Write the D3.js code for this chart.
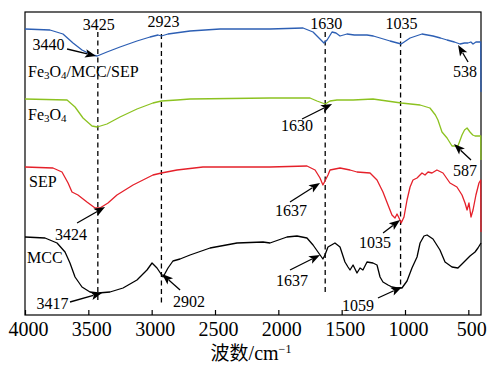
<!DOCTYPE html>
<html><head><meta charset="utf-8">
<script src="https://cdn.jsdelivr.net/npm/d3@7"></script>
<style>body{margin:0;background:#fff}</style>
</head><body><svg id="c" width="489" height="365"></svg>
<script>
// ---- data (wavenumber cm-1, transmittance in arbitrary offset units) ----
const compositeWn = [4000,3803,3700,3621,3550,3471,3430,3353,3250,3116,3013,2950,2923,2871,2697,2460,2066,1805,1726,1687,1640,1615,1576,1545,1513,1458,1400,1300,1250,1197,1118,1030,960,866,779,720,668,610,566,530,503,480,463,440,416,402,400];
const compositeT  = [286,285,281,272,265,260,259,263,268,274,278,280,279,281,284,286,286,287,283,278,272,275,283,282,279,281,280,280,279,277,274,271,277,281,279,277,275,273,271,272,272,273,271,273,273,273,223];

const fe3o4Wn = [4000,3668,3605,3542,3471,3430,3353,3250,3116,2990,2923,2800,2697,2066,1750,1695,1630,1592,1537,1410,1253,1030,881,803,760,740,708,668,629,582,550,530,510,487,465,447,416,402,400];
const fe3o4T  = [216,215,208,197,189,188,191,198,206,212,214,215,216,217,217,214,211,214,215,215,216,212,210,207,200,195,183,177,169,169,180,185,187,183,180,179,179,179,155];

const sepWn = [4000,3779,3708,3660,3629,3582,3511,3447,3408,3345,3274,3147,2990,2923,2800,2595,2066,1774,1710,1671,1648,1608,1592,1513,1434,1379,1276,1221,1174,1134,1103,1079,1063,1047,1030,1008,984,960,937,905,866,842,818,787,748,700,645,590,550,526,510,495,479,463,440,416,402,400];
const sepT  = [148,147,143,132,123,120,113,107,107,112,120,130,140,142,145,148,148,149,145,137,130,140,145,147,145,143,142,135,123,110,100,97,101,97,92,98,115,128,135,137,142,140,143,142,145,142,132,128,120,112,105,112,98,105,120,132,135,83];

const mccWn = [4000,3842,3747,3684,3645,3605,3550,3487,3424,3329,3226,3116,3037,2997,2958,2910,2871,2832,2776,2697,2539,2326,2121,2066,1932,1853,1774,1726,1687,1648,1632,1608,1553,1513,1474,1450,1434,1410,1379,1355,1332,1300,1253,1221,1197,1174,1134,1103,1063,1024,984,945,905,881,850,826,779,724,684,629,582,542,487,447,424,400];
const mccT  = [78,77,72,63,52,38,28,23,22,23,27,35,45,52,47,38,47,54,56,60,67,72,73,72,78,79,77,70,63,56,60,68,72,68,53,48,45,50,42,47,45,53,52,50,38,33,30,28,27,27,34,47,58,72,79,80,76,65,53,48,47,52,59,63,67,72];

const seriesColors = ["#2d5fb4", "#8cc220", "#e5202a", "#000000"];
const xTicks = [4000,3500,3000,2500,2000,1500,1000,500];
const peakLines = [3425, 2923, 1630, 1035];
const peakLabels = ["3425", "2923", "1630", "1035"];

// ---- layout ----
const SERIF = "Liberation Serif";
const svg = d3.select("#c");
const x = d3.scaleLinear().domain([4000, 400]).range([25, 481]);
const y = d3.scaleLinear().domain([0, 300]).range([315, 15]);
function txt(sel, size) { return sel.style("font-family", SERIF).style("font-size", size + "px").style("fill", "#000"); }

// frame
svg.append("rect").attr("x", 25).attr("y", 12).attr("width", 456).attr("height", 303)
  .attr("fill", "none").attr("stroke", "#000").attr("stroke-width", 1.2);

// x axis
const ax = svg.append("g").attr("transform", "translate(0,315)")
  .call(d3.axisBottom(x).tickValues(xTicks).tickSizeInner(-5).tickSizeOuter(0).tickPadding(7).tickFormat(d3.format("d")));
ax.attr("font-family", null).attr("font-size", null);
ax.select(".domain").remove();
ax.selectAll(".tick line").attr("stroke", "#000").attr("stroke-width", 1.2);
txt(ax.selectAll(".tick text"), 20).attr("dx", 3);

// axis title
const t = svg.append("text").attr("x", 251).attr("y", 360).attr("text-anchor", "middle")
  .style("font-family", "Liberation Serif, Noto Sans CJK SC").style("font-size", "19px").style("fill", "#000");
t.append("tspan").text("波数");
t.append("tspan").style("font-size", "20px").text("/cm");
t.append("tspan").style("font-size", "12px").attr("dy", -7).text("−1");

// dashed peak lines
const dashTop = [32, 34, 32, 33], dashBot = [300, 305, 293, 287];
peakLines.forEach((w, i) => {
  svg.append("line").attr("x1", x(w)).attr("x2", x(w)).attr("y1", dashTop[i]).attr("y2", dashBot[i])
    .attr("stroke", "#000").attr("stroke-width", 1.3).attr("stroke-dasharray", "5,3.5");
});
const peakLabelY = [30, 27, 29, 29], peakLabelDx = [1, 2, 1, 1];
peakLines.forEach((w, i) => {
  txt(svg.append("text").attr("x", x(w) + peakLabelDx[i]).attr("y", peakLabelY[i]).attr("text-anchor", "middle"), 16)
    .text(peakLabels[i]);
});

// curves
const allSeries = [[compositeWn, compositeT], [fe3o4Wn, fe3o4T], [sepWn, sepT], [mccWn, mccT]];
const line = d3.line().x(d => x(d[0])).y(d => y(d[1]));
allSeries.forEach(([wn, tv], i) => {
  const pts = wn.map((w, j) => [w, tv[j]]);
  svg.append("path").datum(pts).attr("d", line)
    .attr("fill", "none").attr("stroke", seriesColors[i]).attr("stroke-width", 1.3).attr("stroke-linejoin", "round");
});

// series labels
function chemLabel(xp, yp, parts) {
  const el = txt(svg.append("text").attr("x", xp).attr("y", yp), 16);
  parts.forEach(p => {
    if (p.sub) el.append("tspan").style("font-size", "11px").attr("dy", 2).text(p.t);
    else el.append("tspan").attr("dy", p.after ? -2 : 0).text(p.t);
  });
}
chemLabel(28, 77, [{t:"Fe"},{t:"3",sub:1},{t:"O",after:1},{t:"4",sub:1},{t:"/MCC/SEP",after:1}]);
chemLabel(28, 120, [{t:"Fe"},{t:"3",sub:1},{t:"O",after:1},{t:"4",sub:1}]);
chemLabel(29, 187, [{t:"SEP"}]);
chemLabel(27, 263, [{t:"MCC"}]);

// arrows with labels: tip in data coords, tail & label offsets in px
const annText = ["3440","538","1630","587","3424","3417","2902","1637","1637","1035","1059"];
const annTipWn = [3439, 581, 1576, 613, 3368, 3392, 2918, 1671, 1671, 1039, 1024];
const annTipT  = [259, 270, 211, 171, 108, 22, 41, 132, 60, 95, 28];
const annTail = [[-29,-7],[10,17],[-30,15],[17,16],[-28,16],[-32,9],[18,16],[-30,19],[-30,15],[-17,13],[-24,11]];
const annLab  = [[-47.5,-6],[7,32],[-35,27],[11,32],[-34,33],[-49.5,16],[27,33],[-29,33],[-28,31],[-25,28],[-44,24]];
annText.forEach((s, i) => {
  const tx = x(annTipWn[i]), ty = y(annTipT[i]);
  const sx = tx + annTail[i][0], sy = ty + annTail[i][1];
  const dx = tx - sx, dy = ty - sy, L = Math.hypot(dx, dy), ux = dx / L, uy = dy / L;
  const hl = 11, hw = 4.2;
  const bx = tx - ux * hl, by = ty - uy * hl;
  svg.append("line").attr("x1", sx).attr("y1", sy).attr("x2", bx + ux * 2).attr("y2", by + uy * 2)
    .attr("stroke", "#000").attr("stroke-width", 1.3);
  svg.append("path").attr("d", `M${tx},${ty}L${bx - uy * hw},${by + ux * hw}L${bx + ux*2.5},${by + uy*2.5}L${bx + uy * hw},${by - ux * hw}Z`)
    .attr("fill", "#000");
  txt(svg.append("text").attr("x", tx + annLab[i][0]).attr("y", ty + annLab[i][1]).attr("text-anchor", "middle"), 16).text(s);
});
</script>
</body></html>
